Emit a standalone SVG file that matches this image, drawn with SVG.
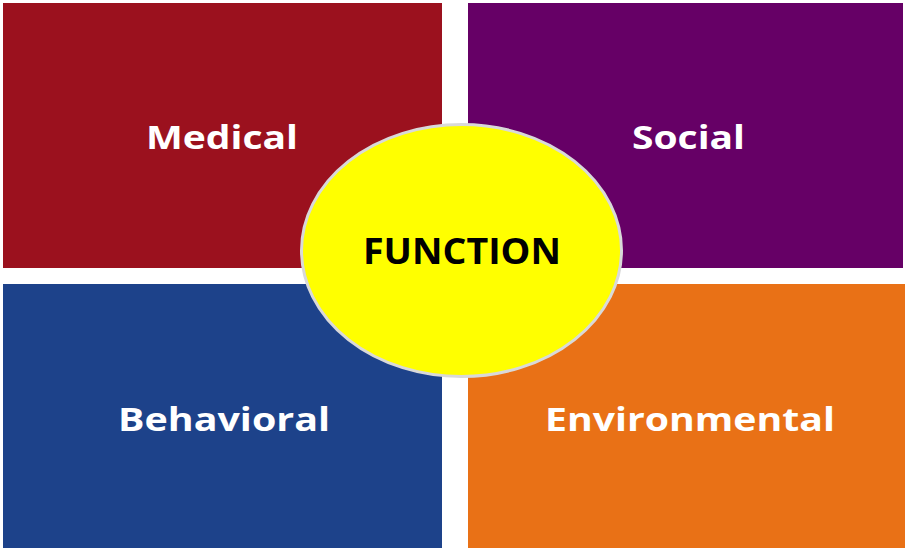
<svg xmlns="http://www.w3.org/2000/svg" width="908" height="548" viewBox="0 0 908 548">
<style>
.lbl{font-family:"Open Sans","Liberation Sans",sans-serif;font-weight:700;font-size:33px;fill:#ffffff}
.ctr{font-family:"Open Sans","Liberation Sans",sans-serif;font-weight:700;font-size:36px;fill:#000000}
</style>
<rect width="908" height="548" fill="#ffffff"/>
<g id="medical"><rect x="3" y="3" width="439" height="265" fill="#9B111E"/><text class="lbl" x="146" y="149" textLength="152" lengthAdjust="spacingAndGlyphs">Medical</text></g>
<g id="social"><rect x="468" y="3" width="435" height="265" fill="#660066"/><text class="lbl" x="632" y="149" textLength="113" lengthAdjust="spacingAndGlyphs">Social</text></g>
<g id="behavioral"><rect x="3" y="284" width="439" height="264" fill="#1D428A"/><text class="lbl" x="118" y="431" textLength="212" lengthAdjust="spacingAndGlyphs">Behavioral</text></g>
<g id="environmental"><rect x="468" y="284" width="437" height="264" fill="#E97116"/><text class="lbl" x="545" y="431" textLength="290" lengthAdjust="spacingAndGlyphs">Environmental</text></g>
<g id="connectors"></g>
<g id="function"><ellipse cx="461.5" cy="250.5" rx="160" ry="126" fill="#FFFF00" stroke="#D9D9D9" stroke-width="3"/><text class="ctr" x="363" y="264" textLength="198" lengthAdjust="spacingAndGlyphs">FUNCTION</text></g>
</svg>
